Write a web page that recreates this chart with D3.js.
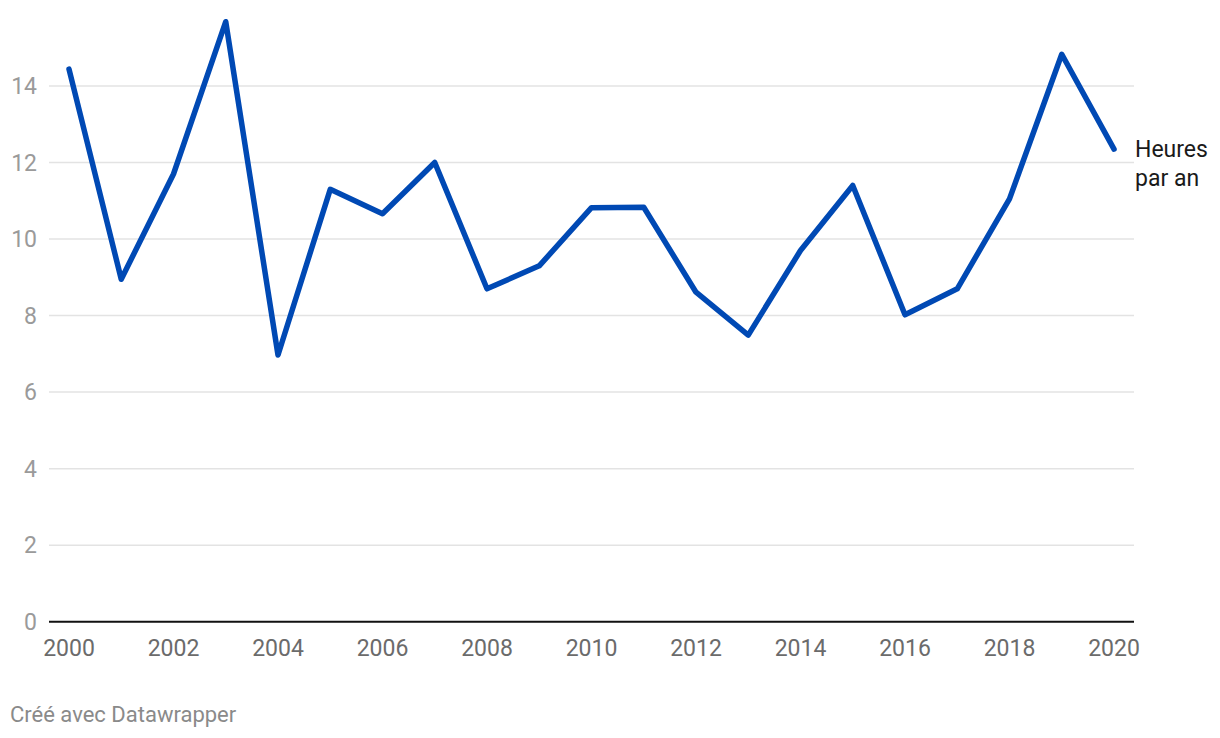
<!DOCTYPE html>
<html>
<head>
<meta charset="utf-8">
<script src="https://cdn.jsdelivr.net/npm/d3@7"></script>
<style>
  body { margin: 0; background: #fff; font-family: Roboto, "Noto Sans", sans-serif; }
  .grid line { stroke: #e3e3e3; stroke-width: 1.5; }
  text { font-family: Roboto, sans-serif; }
</style>
</head>
<body>
<svg id="chart" width="1220" height="738"></svg>
<script>
// years and hours per year
var years = [2000, 2001, 2002, 2003, 2004, 2005, 2006, 2007, 2008, 2009, 2010,
             2011, 2012, 2013, 2014, 2015, 2016, 2017, 2018, 2019, 2020];
var hours = [14.44, 8.95, 11.70, 15.68, 6.97, 11.30, 10.66, 12.00, 8.70, 9.30, 10.82,
             10.83, 8.61, 7.49, 9.70, 11.40, 8.02, 8.70, 11.05, 14.83, 12.35];
var yTicks = [0, 2, 4, 6, 8, 10, 12, 14];
var xTicks = [2000, 2002, 2004, 2006, 2008, 2010, 2012, 2014, 2016, 2018, 2020];
var seriesLabel = ["Heures", "par an"];

var svg = d3.select('#chart');

var x = d3.scaleLinear().domain([2000, 2020]).range([69, 1114]);
var y = d3.scaleLinear().domain([0, 14]).range([621.7, 86]);

var gridLeft = 49, gridRight = 1134;

// horizontal gridlines
svg.append('g').attr('class', 'grid')
    .selectAll('line')
    .data(yTicks.filter(function(d) { return d > 0 }))
    .enter().append('line')
    .attr('x1', gridLeft).attr('x2', gridRight)
    .attr('y1', function(d) { return y(d) })
    .attr('y2', function(d) { return y(d) });

// y tick labels
svg.append('g')
    .selectAll('text')
    .data(yTicks)
    .enter().append('text')
    .attr('x', 37)
    .attr('y', function(d) { return y(d) })
    .attr('dy', '0.35em')
    .attr('text-anchor', 'end')
    .attr('fill', '#9a9a9a')
    .style('font-size', '23px')
    .text(function(d) { return d });

// x axis labels
svg.append('g')
    .selectAll('text')
    .data(xTicks)
    .enter().append('text')
    .attr('x', function(d) { return x(d) })
    .attr('y', 656)
    .attr('text-anchor', 'middle')
    .attr('fill', '#6b6b6b')
    .style('font-size', '23px')
    .text(function(d) { return d });

// zero baseline
svg.append('line')
    .attr('x1', gridLeft).attr('x2', gridRight)
    .attr('y1', y(0)).attr('y2', y(0))
    .attr('stroke', '#111').attr('stroke-width', 2);

// the line
var line = d3.line()
    .x(function(d, i) { return x(years[i]) })
    .y(function(d) { return y(d) });

svg.append('path')
    .datum(hours)
    .attr('d', line)
    .attr('fill', 'none')
    .attr('stroke', '#0049b4')
    .attr('stroke-width', 5.5)
    .attr('stroke-linejoin', 'round')
    .attr('stroke-linecap', 'round');

// series label at the line end
svg.append('text')
    .attr('x', 1135)
    .attr('y', 157)
    .attr('fill', '#1a1a1a')
    .style('font-size', '23px')
    .selectAll('tspan')
    .data(seriesLabel)
    .enter().append('tspan')
    .attr('x', 1135)
    .attr('dy', function(d, i) { return i == 0 ? 0 : 29 })
    .text(function(d) { return d });

// footer
svg.append('text')
    .attr('x', 10)
    .attr('y', 722)
    .attr('fill', '#8a8a8a')
    .style('font-size', '22px')
    .text('Créé avec Datawrapper');
</script>
</body>
</html>
